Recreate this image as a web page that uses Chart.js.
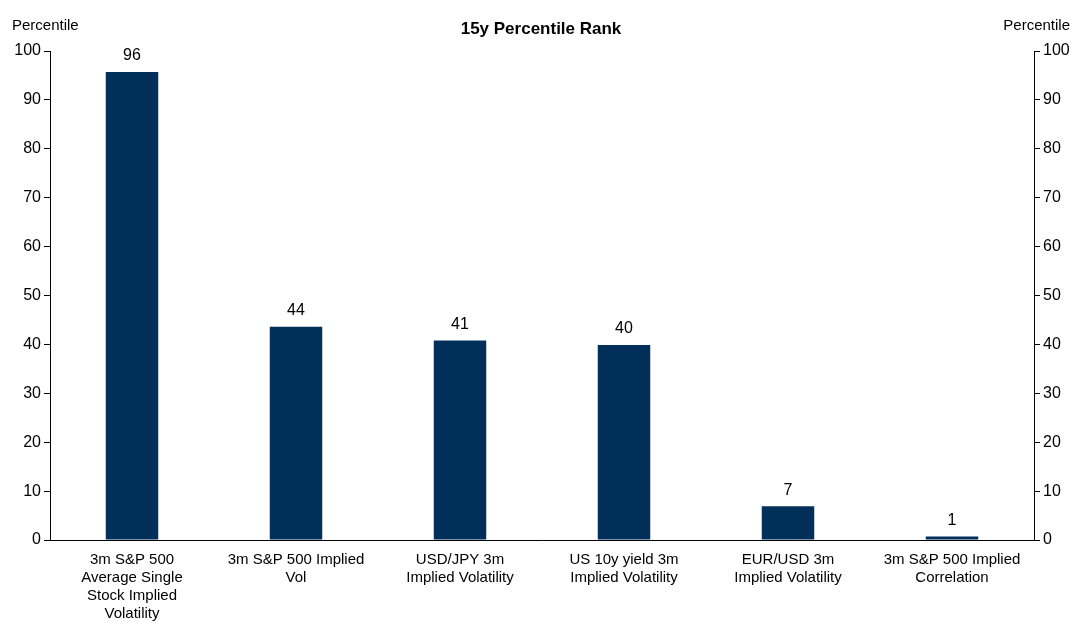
<!DOCTYPE html>
<html><head><meta charset="utf-8">
<script src="https://cdn.jsdelivr.net/npm/chart.js@4"></script>
<style>html,body{margin:0;padding:0;background:#fff}#w{width:1076px;height:626px}</style>
</head><body><div id="w"><canvas id="c"></canvas></div>
<script>
const categories = [
  ["3m S&P 500","Average Single","Stock Implied","Volatility"],
  ["3m S&P 500 Implied","Vol"],
  ["USD/JPY 3m","Implied Volatility"],
  ["US 10y yield 3m","Implied Volatility"],
  ["EUR/USD 3m","Implied Volatility"],
  ["3m S&P 500 Implied","Correlation"]
];
const values = [95.7, 43.6, 40.8, 39.9, 6.9, 0.7];
const labels = ["96","44","41","40","7","1"];
const F = "'Liberation Sans', Arial, sans-serif";
const extra = {
  id:'extra',
  afterDraw(ch){
    const c=ch.ctx, m=ch.getDatasetMeta(0);
    c.save(); c.fillStyle='#000'; c.font='16px '+F; c.textAlign='center'; c.textBaseline='bottom';
    m.data.forEach((b,i)=>c.fillText(labels[i], b.x, b.y-8));
    c.font='15px '+F; c.textBaseline='middle';
    c.textAlign='left'; c.fillText('Percentile', 12, 26);
    c.textAlign='right'; c.fillText('Percentile', 1070, 26);
    c.font='bold 17px '+F; c.textAlign='center'; c.fillText('15y Percentile Rank', 541, 29);
    c.restore();
  }
};
new Chart(document.getElementById('c'), {
  type:'bar',
  data:{labels:categories, datasets:[{data:values, backgroundColor:'#002F5A', barPercentage:0.32, categoryPercentage:1}]},
  options:{
    responsive:true, maintainAspectRatio:false, animation:false,
    layout:{padding:{top:51,left:0,right:0,bottom:0}},
    plugins:{legend:{display:false},tooltip:{enabled:false}},
    scales:{
      x:{grid:{display:false}, border:{color:'#000'}, ticks:{color:'#000',font:{size:15,family:F},maxRotation:0,autoSkip:false}},
      y:{position:'left', min:0,max:100, afterFit(s){s.width=50}, ticks:{stepSize:10,color:'#000',font:{size:16,family:F}}, grid:{display:true,drawOnChartArea:false,tickLength:6,color:'#000'}, border:{color:'#000'}},
      y2:{position:'right', min:0,max:100, afterFit(s){s.width=42}, ticks:{stepSize:10,color:'#000',font:{size:16,family:F}}, grid:{display:true,drawOnChartArea:false,tickLength:6,color:'#000'}, border:{color:'#000'}}
    }
  },
  plugins:[extra]
});
</script></body></html>
